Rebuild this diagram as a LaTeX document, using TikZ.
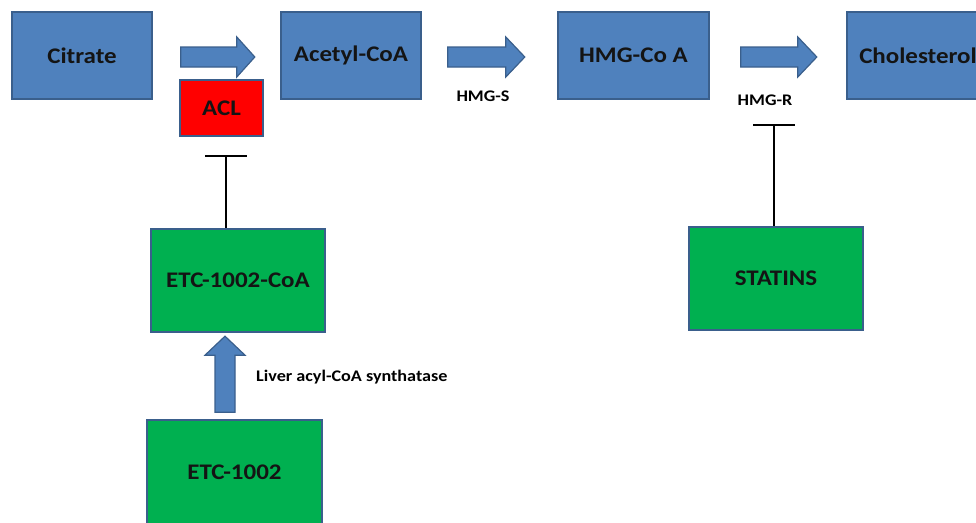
\documentclass[tikz,border=0pt]{standalone}
\usepackage{fontspec}
\newfontfamily\calfont[FakeStretch=1.12]{Carlito}
\usetikzlibrary{calc,arrows.meta}
\definecolor{boxblue}{HTML}{4F81BD}
\definecolor{edgeblue}{HTML}{3A5F8C}
\definecolor{boxgreen}{HTML}{00B050}
\definecolor{boxred}{HTML}{FF0000}
\tikzset{
  box/.style={draw=edgeblue, line width=1.6pt, rectangle, inner sep=0pt,
    font=\calfont\bfseries\fontsize{22.3}{25}\selectfont, text=black!92},
  bluebox/.style={box, fill=boxblue, minimum width=140pt, minimum height=87pt},
  greenbox/.style={box, fill=boxgreen, minimum width=174pt, minimum height=103pt},
  redbox/.style={box, fill=boxred, minimum width=83pt, minimum height=56pt},
  blockarrow/.style={draw=edgeblue, line width=1.2pt, fill=boxblue, line join=miter},
  inhib/.style={line width=2pt, black},
  lbl/.style={font=\calfont\bfseries\fontsize{16.2}{18}\selectfont, inner sep=0pt, text=black}
}
\begin{document}
\begin{tikzpicture}[x=1pt,y=-1pt]
\useasboundingbox (0,0) rectangle (976,522);
\node[bluebox] (citrate) at (82,55.5) {Citrate};
\node[bluebox] (acetyl) at (351,55.5) {Acetyl-CoA};
\node[bluebox, minimum width=151pt] (hmg) at (633.5,55.5) {HMG-Co A};
\node[bluebox, minimum width=142pt] (chol) at (918,55.5) {Cholesterol};
\node[redbox] (acl) at (221.5,108) {ACL};
\node[greenbox] (etccoa) at (238,280.5) {ETC-1002-CoA};
\node[greenbox] (statins) at (776,278.5) {STATINS};
\node[greenbox, minimum width=175pt, minimum height=104pt] (etc) at (234.5,472) {ETC-1002};

% block arrows between boxes
\draw[blockarrow] ($(citrate.east)+(28,-8.5)$) -- ++(56,0) -- ++(0,-10) -- ++(18,20) -- ++(-18,20) -- ++(0,-10) -- ++(-56,0) -- cycle;
\draw[blockarrow] ($(acetyl.east)+(26,-8.5)$) -- ++(58,0) -- ++(0,-10) -- ++(19,20) -- ++(-19,20) -- ++(0,-10) -- ++(-58,0) -- cycle;
\draw[blockarrow] ($(hmg.east)+(31,-8.5)$) -- ++(57,0) -- ++(0,-10) -- ++(19,20) -- ++(-19,20) -- ++(0,-10) -- ++(-57,0) -- cycle;
% up arrow
\draw[blockarrow] ($(etc.north)+(-19.5,-7)$) -- ++(0,-57) -- ++(-10,0) -- ++(20,-19) -- ++(20,19) -- ++(-10,0) -- ++(0,57) -- cycle;

% labels
\node[lbl] (hmgs) at (483,96) {HMG-S};
\node[lbl] (hmgr) at (765,100) {HMG-R};
\node[lbl, anchor=west] (liver) at (256,377) {Liver acyl-CoA synthatase};

% inhibition connectors
\coordinate (ta) at ($(etccoa.north)+(-12,-72)$);
\draw[inhib] ($(etccoa.north)+(-12,0)$) -- (ta);
\draw[inhib] ($(ta)+(-21,0)$) -- ($(ta)+(21,0)$);
\coordinate (tb) at ($(statins.north)+(-2,-101)$);
\draw[inhib] ($(statins.north)+(-2,0)$) -- (tb);
\draw[inhib] ($(tb)+(-21,0)$) -- ($(tb)+(21,0)$);
\end{tikzpicture}
\end{document}
